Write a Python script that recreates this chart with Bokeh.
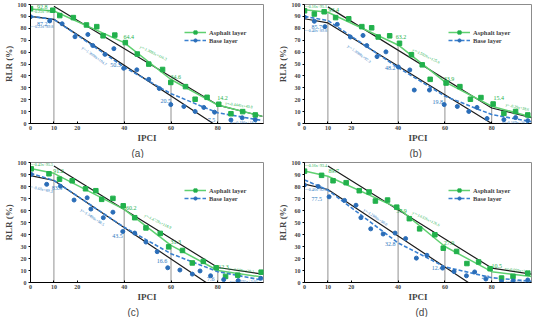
import numpy as np
from bokeh.plotting import figure
from bokeh.models import (ColumnDataSource, LabelSet, Legend, LegendItem,
                          FixedTicker, Range1d, Title)
from bokeh.layouts import row, column
from bokeh.core.properties import value
from bokeh.embed import file_html
from bokeh.resources import INLINE

# ---------------- data ----------------
IPCI_TICKS = [0, 10, 20, 40, 60, 80]
RLR_TICKS = [0, 10, 20, 30, 40, 50, 60, 70, 80, 90, 100]
BREAKS = [10, 40, 60, 80]
FIT_X_LEFT = [0, 10, 40, 60, 80, 99]
FIT_X_RIGHT = [0, 10, 40, 60, 80, 97]

# panel (a)
A_ASPH_X = [0, 9.5, 12.5, 18.3, 23.9, 28.3, 31, 36, 40.5, 45.6, 50.5, 56.4, 59.9, 66.2, 70.3, 75.4, 80.4, 85.6, 90.6, 96]
A_ASPH_Y = [96.5, 95.2, 90.7, 89, 82.8, 81.4, 73.7, 74.3, 68, 58.4, 49.9, 45.4, 34.5, 31, 20.4, 22, 16.2, 8.2, 10, 7.2]
A_BASE_X = [0, 8.2, 13.5, 19, 24.5, 26.6, 31.8, 35.6, 39.8, 45.4, 50.5, 55, 59.9, 65.5, 70.3, 74, 78.6, 85.6, 90.4, 96]
A_BASE_Y = [89.7, 86.2, 83.8, 72.9, 74.8, 65.5, 58.1, 62.9, 46.4, 45.1, 37.1, 29.4, 15.9, 14.3, 10.1, 13.5, 9.5, 2.9, 4.8, 3.2]
A_ASPH_FIT = [96.3, 94.5, 68, 37, 15.5, 6]
A_BASE_FIT = [90, 87.5, 47.5, 25, 9, 2.5]
A_UP_X = [10, 80, 99]
A_UP_Y = [98.5, 15.5, 6]
A_LO_X = [0, 10, 78]
A_LO_Y = [90, 87.5, 0]
A_LBL = ["92.8", "87.2", "64.4", "50.3", "34.6", "20.5", "14.2", "7.5"]
A_LBL_X = [5, 5, 42, 36.3, 62, 57.8, 82, 77.3]
A_LBL_Y = [98, 84, 72.7, 48.8, 38.7, 18.8, 21.8, 2.9]
A_EQ = ["y=-0.25x+96.3", "y=-0.23x+89.8", "y=-1.3093x+116.3", "y=-1.3608x+104.7", "y=-0.4445x+49.8", "y=-0.186x+18.8"]
A_EQ_X = [4.6, 4.6, 52.5, 27.3, 89, 91]
A_EQ_Y = [94.3, 81.5, 59.4, 56.8, 15.5, 1.2]
A_EQ_ANG = [0, 0, -26, -36, -8, 0]

# panel (b)
B_ASPH_X = [0, 4.2, 8.4, 13.3, 18.9, 24.5, 28.7, 31.5, 36.4, 40.6, 45.7, 50.3, 53.7, 60.5, 66.4, 70.9, 75.4, 80.6, 85.2, 90.2, 95.4]
B_ASPH_Y = [94.7, 92, 93.9, 89, 88, 81.4, 80.4, 72.7, 73.7, 67.4, 57.8, 49.3, 37.1, 34, 31, 20.4, 21.8, 16.4, 8.5, 10.1, 7.2]
B_BASE_X = [0, 4.2, 8.7, 14, 19.6, 25, 26.6, 31, 34.8, 40.1, 45, 46.9, 53.4, 59.7, 65.3, 70.2, 73.7, 78, 85.2, 90.2, 95.4]
B_BASE_Y = [89.4, 85.9, 81.4, 83.3, 72.7, 74, 65.5, 56.2, 60.2, 47.5, 45, 28.1, 28.1, 15.9, 14.3, 10.1, 13.5, 4.2, 3.2, 5, 2.4]
B_ASPH_FIT = [95.5, 93.5, 66, 35, 14.5, 5.5]
B_BASE_FIT = [90, 86.5, 47, 23, 7.5, 1.5]
B_UP_X = [10, 80, 97]
B_UP_Y = [98, 13, 5]
B_LO_X = [0, 10, 80]
B_LO_Y = [88, 84.5, 0]
B_LBL = ["93.4", "85.7", "63.2", "48.2", "33.9", "19.8", "15.4"]
B_LBL_X = [12.5, 5.2, 41.2, 36.6, 61.8, 56.9, 83]
B_LBL_Y = [95, 81.4, 72.7, 46.7, 37.7, 17.8, 21.5]
B_EQ = ["y=-0.16x+95.1", "y=-0.40x+89.8", "y=-1.5026x+125.6", "y=-1.3088x+97.3", "y=-0.29x+38.6", "y=-0.169x+16.4"]
B_EQ_X = [4.5, 4.5, 52, 23.4, 91, 90]
B_EQ_Y = [98.3, 78.2, 56.8, 58.6, 13.8, 1.0]
B_EQ_ANG = [0, 0, -26, -36, -12, 0]

# panel (c)
C_ASPH_X = [0.3, 7.9, 12.4, 17.8, 23.5, 27.9, 30.4, 35.2, 39.6, 44.5, 49.3, 55.4, 59, 64.9, 69.1, 73.8, 79.3, 83.3, 88.5, 98.5]
C_ASPH_Y = [94.7, 90.6, 86.1, 84.8, 78.1, 76.5, 69.3, 70.1, 63.9, 54, 45.5, 40.9, 29.7, 26.7, 16.3, 17.6, 12.3, 5.1, 6.1, 8.6]
C_BASE_X = [0.3, 6.9, 12.8, 18.6, 24.2, 25.8, 31.1, 35.2, 39.4, 44.5, 49.3, 54.1, 58.6, 63.8, 69.1, 72.4, 76.9, 82.5, 88.7, 98.3]
C_BASE_Y = [90.1, 81.8, 80.2, 68.7, 70.6, 61.2, 54, 58.6, 42.5, 41.2, 33.7, 25.7, 12.3, 10.4, 7, 9.6, 5.6, 2.4, 1.6, 3.5]
C_ASPH_FIT = [95, 91, 61, 31, 10, 4.5]
C_BASE_FIT = [91, 85, 46, 24, 9, 2]
C_UP_X = [10, 80, 99]
C_UP_Y = [97, 12.5, 7]
C_LO_X = [0, 10, 75]
C_LO_Y = [89, 85, 0]
C_LBL = ["91.2", "83.3", "60.2", "43.5", "31.3", "16.6", "12.3", "7.6"]
C_LBL_X = [12, 11.3, 43, 37.2, 62, 56.2, 82.4, 77]
C_LBL_Y = [93, 78.6, 61.8, 39, 34, 17.6, 13.1, 2.9]
C_EQ = ["y=-0.43x+95.5", "y=-0.60x+89.3", "y=-1.4729x+118.9", "y=-1.3486x+98.5", "y=-0.196x+28.1", "y=-0.0295x+3.02"]
C_EQ_X = [4.5, 4.5, 54.4, 26.5, 90, 91]
C_EQ_Y = [98, 78, 51, 54.5, 10.4, 1.0]
C_EQ_ANG = [0, -12, -26, -34, -6, 0]

# panel (d)
D_ASPH_X = [0, 7.3, 12.2, 17.8, 23.4, 27.6, 30.3, 35.5, 39.4, 44.8, 49.2, 55.7, 59.3, 65, 69.4, 74.4, 79.3, 84.2, 89.1, 95.4]
D_ASPH_Y = [92.8, 89.3, 84.8, 83.2, 76.5, 75.4, 67.9, 68.7, 62.8, 53.2, 44.7, 39.8, 28.6, 25.9, 15.8, 17.1, 11.5, 3.7, 5.1, 7.8]
D_BASE_X = [0, 5.9, 10.5, 17.1, 22, 24.1, 28.3, 33.6, 38.7, 43.2, 47.8, 52.3, 59, 63.9, 69.2, 72.7, 77.5, 84.2, 89.1, 95.4]
D_BASE_Y = [81.3, 80, 71.4, 68.4, 64.4, 54, 44.7, 40.4, 41.2, 36.6, 20.3, 22.7, 12, 9.1, 5.6, 8.8, 2.9, 0.8, 1.3, 2.1]
D_ASPH_FIT = [93, 88.5, 62, 30, 9, 5]
D_BASE_FIT = [85.5, 77, 33, 13, 4, 1]
D_UP_X = [10, 80, 97]
D_UP_Y = [97, 12, 7]
D_LO_X = [0, 10, 70]
D_LO_Y = [82, 77.5, 0]
D_LBL = ["89.7", "77.5", "57.9", "32.8", "27.9", "12.4", "10.5", "2.6"]
D_LBL_X = [12.5, 5.2, 41.5, 36.6, 61.8, 56.6, 82.1, 77.2]
D_LBL_Y = [93, 69.3, 60, 31.8, 33, 11.8, 13.6, 5]
D_EQ = ["y=-0.16x+93.4", "y=-0.46x+82.0", "y=-1.6326x+126.6", "y=-1.2986x+90.0", "y=-0.099x+14.5", "y=-0.048x+4.4"]
D_EQ_X = [4.5, 4.5, 52, 30.4, 91, 91]
D_EQ_Y = [97.3, 77.3, 53.2, 54.5, 10.4, 1.0]
D_EQ_ANG = [0, 0, -26, -34, -8, 0]

# ---------------- style ----------------
GREEN = "#22b14c"
GREEN_LINE = "#5fd070"
BLUE = "#2a6db8"
BLUE_LINE = "#3a80d0"
BLUE_TXT = "#2e78c0"
BLACK = "#1c1c1c"
SERIF = "Liberation Serif"


def panel(tag, tag_offset, left, top, fit_x, ax, ay, bx, by, afit, bfit, upx, upy,
          lox, loy, lbl, lblx, lbly, eq, eqx, eqy, eqang):
    xmax = 99.5 if left else 97
    bl, br = (26, 4) if left else (37, 3)
    height = 158 if top else 159
    p = figure(width=267, height=height, output_backend="svg", toolbar_location=None,
               tools="", x_range=Range1d(0, xmax), y_range=Range1d(0, 100),
               min_border_left=bl, min_border_right=br, min_border_top=4,
               min_border_bottom=28)
    p.xgrid.visible = False
    p.ygrid.visible = False
    p.outline_line_color = "#8c8c8c"
    p.outline_line_width = 1
    p.background_fill_color = "white"

    for axis in (p.xaxis[0], p.yaxis[0]):
        axis.axis_line_color = "black"
        axis.axis_line_width = 1
        axis.major_tick_line_color = "black"
        axis.minor_tick_line_color = None
        axis.major_label_text_font = SERIF
        axis.major_label_text_font_style = "bold"
        axis.major_label_text_font_size = "6px"
        axis.axis_label_text_font = SERIF
        axis.axis_label_text_font_style = "bold"
        axis.axis_label_text_font_size = "9px"
        axis.major_label_standoff = 2
    p.xaxis.ticker = FixedTicker(ticks=IPCI_TICKS)
    p.yaxis.ticker = FixedTicker(ticks=RLR_TICKS)
    p.xaxis.axis_label = "IPCI"
    p.yaxis.axis_label = "RLR (%)"
    p.xaxis.major_tick_in = 2
    p.xaxis.major_tick_out = 0
    p.xaxis.axis_label_standoff = 0
    p.yaxis.major_tick_in = 0
    p.yaxis.major_tick_out = 2
    p.yaxis.axis_label_standoff = 1

    p.add_layout(Title(text=tag, align="left", text_font="Liberation Sans",
                       text_font_size="10px", text_font_style="normal",
                       standoff=0, offset=tag_offset), "below")

    tops = np.interp(BREAKS, fit_x, afit)
    p.segment(x0=BREAKS, y0=[0] * len(BREAKS), x1=BREAKS, y1=tops,
              line_color="#222222", line_width=1, line_dash="1 1")
    p.line(upx, upy, line_color=BLACK, line_width=1.2)
    p.line(lox, loy, line_color=BLACK, line_width=1.2)
    gl = p.line(fit_x, afit, line_color=GREEN_LINE, line_width=1.5)
    bline = p.line(fit_x, bfit, line_color=BLUE_LINE, line_width=1.6, line_dash="4 2")
    gs = p.scatter(ax, ay, marker="square", size=4.5, color=GREEN)
    bd = p.scatter(bx, by, marker="circle", size=4, color=BLUE)

    colors = [GREEN if i % 2 == 0 else BLUE_TXT for i in range(len(lbl))]
    src = ColumnDataSource(dict(x=lblx, y=lbly, text=lbl, c=colors))
    p.add_layout(LabelSet(source=src, x="x", y="y", text="text", text_color="c",
                          text_font=value(SERIF), text_font_size="6px",
                          text_align="center", text_baseline="middle"))
    ecolors = [GREEN if i % 2 == 0 else BLUE_TXT for i in range(len(eq))]
    esrc = ColumnDataSource(dict(x=eqx, y=eqy, text=eq, c=ecolors, a=eqang))
    p.add_layout(LabelSet(source=esrc, x="x", y="y", text="text", text_color="c",
                          angle="a", angle_units="deg",
                          text_font=value(SERIF), text_font_size="4px",
                          text_align="center", text_baseline="middle"))

    fw = 267 - bl - br
    fh = height - 4 - 31
    legend = Legend(items=[LegendItem(label="Asphalt layer", renderers=[gl, gs]),
                           LegendItem(label="Base layer", renderers=[bline, bd])],
                    location=(fw - 83, fh - 44),
                    label_text_font=SERIF, label_text_font_style="bold",
                    label_text_font_size="6.5px", glyph_width=22, glyph_height=8,
                    label_height=8, label_standoff=3, padding=2, spacing=0, margin=0,
                    border_line_color=None, background_fill_alpha=0)
    p.add_layout(legend)
    return p


pa = panel("(a)", 101, True, True, FIT_X_LEFT, A_ASPH_X, A_ASPH_Y, A_BASE_X, A_BASE_Y,
           A_ASPH_FIT, A_BASE_FIT, A_UP_X, A_UP_Y, A_LO_X, A_LO_Y,
           A_LBL, A_LBL_X, A_LBL_Y, A_EQ, A_EQ_X, A_EQ_Y, A_EQ_ANG)
pb = panel("(b)", 105, False, True, FIT_X_RIGHT, B_ASPH_X, B_ASPH_Y, B_BASE_X, B_BASE_Y,
           B_ASPH_FIT, B_BASE_FIT, B_UP_X, B_UP_Y, B_LO_X, B_LO_Y,
           B_LBL, B_LBL_X, B_LBL_Y, B_EQ, B_EQ_X, B_EQ_Y, B_EQ_ANG)
pc = panel("(c)", 97, True, False, FIT_X_LEFT, C_ASPH_X, C_ASPH_Y, C_BASE_X, C_BASE_Y,
           C_ASPH_FIT, C_BASE_FIT, C_UP_X, C_UP_Y, C_LO_X, C_LO_Y,
           C_LBL, C_LBL_X, C_LBL_Y, C_EQ, C_EQ_X, C_EQ_Y, C_EQ_ANG)
pd_ = panel("(d)", 111, False, False, FIT_X_RIGHT, D_ASPH_X, D_ASPH_Y, D_BASE_X, D_BASE_Y,
            D_ASPH_FIT, D_BASE_FIT, D_UP_X, D_UP_Y, D_LO_X, D_LO_Y,
            D_LBL, D_LBL_X, D_LBL_Y, D_EQ, D_EQ_X, D_EQ_Y, D_EQ_ANG)

layout = column(row(pa, pb), row(pc, pd_))
open("out.html", "w").write(file_html(layout, INLINE))
